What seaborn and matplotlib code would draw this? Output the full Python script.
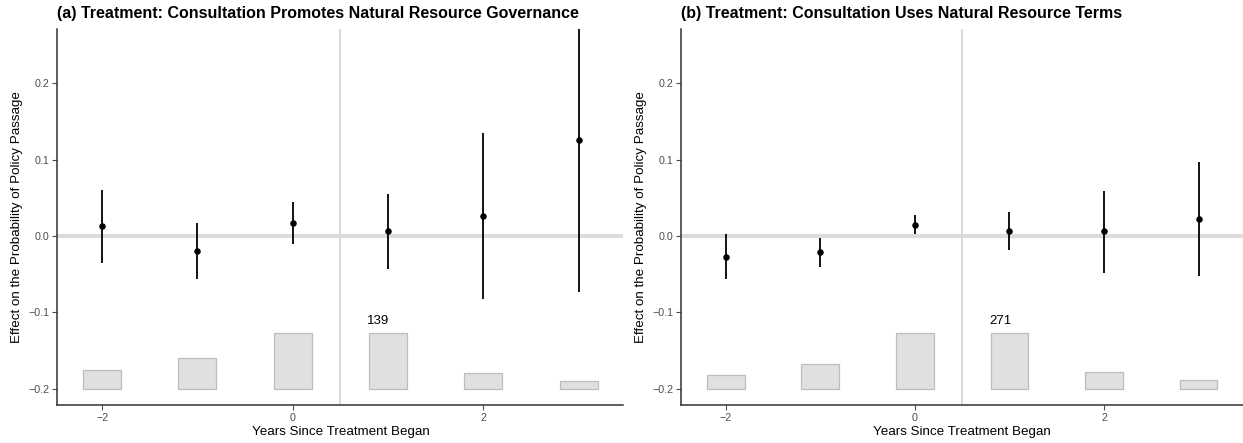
import numpy as np
import pandas as pd
import matplotlib
matplotlib.use("Agg")
import matplotlib.pyplot as plt
import seaborn as sns

# ---- data ----
years = [-2, -1, 0, 1, 2, 3]

titles = ["(a) Treatment: Consultation Promotes Natural Resource Governance",
          "(b) Treatment: Consultation Uses Natural Resource Terms"]

est_a = [0.013, -0.020, 0.017, 0.006, 0.026, 0.126]
lo_a = [-0.035, -0.057, -0.010, -0.043, -0.083, -0.073]
hi_a = [0.060, 0.017, 0.045, 0.055, 0.135, 0.326]
counts_a = [47, 77, 139, 139, 38, 19]

est_b = [-0.027, -0.021, 0.015, 0.007, 0.006, 0.022]
lo_b = [-0.057, -0.041, 0.002, -0.018, -0.048, -0.053]
hi_b = [0.002, -0.002, 0.028, 0.032, 0.059, 0.097]
counts_b = [65, 120, 271, 271, 82, 41]

count_labels = ["139", "271"]
label_year = 1

bar_base = -0.2
bar_max_height = 0.0725

sns.set_theme(style="ticks")
plt.rcParams['font.family'] = ['Liberation Sans', 'DejaVu Sans']
plt.rcParams['text.color'] = 'black'

fig = plt.figure(figsize=(12.43, 4.43), dpi=100)
axes = [fig.add_axes([0.0461, 0.0847, 0.4555, 0.8498]),
        fig.add_axes([0.5481, 0.0847, 0.4519, 0.8498])]

panels = [(est_a, lo_a, hi_a, counts_a), (est_b, lo_b, hi_b, counts_b)]

for ax, title, (est, lo, hi, counts), lab in zip(axes, titles, panels, count_labels):
    df = pd.DataFrame({"year": years, "est": est, "lo": lo, "hi": hi, "n": counts})
    heights = df["n"] / df["n"].max() * bar_max_height
    ax.axhline(0, color="#dcdcdc", lw=3, zorder=1)
    ax.axvline(0.5, color="#d9d9d9", lw=1.4, zorder=1)
    ax.bar(df["year"], heights, width=0.4, bottom=bar_base, color="#e0e0e0",
           edgecolor="#bdbdbd", linewidth=0.9, zorder=2)
    ax.vlines(df["year"], df["lo"], df["hi"], color="black", lw=1.3, zorder=3)
    sns.scatterplot(data=df, x="year", y="est", ax=ax, color="black", s=22,
                    edgecolor="black", linewidth=0, zorder=4, legend=False)
    ax.text(label_year - 0.1, bar_base + bar_max_height + 0.0165, lab,
            ha="center", va="center", fontsize=9.5, color="black")
    ax.set_xlim(-2.47, 3.47)
    ax.set_ylim(-0.2222, 0.2713)
    ax.set_xticks([-2, 0, 2])
    ax.set_xticklabels(["\u22122", "0", "2"])
    ax.set_yticks([-0.2, -0.1, 0.0, 0.1, 0.2])
    ax.set_yticklabels(["\u22120.2", "\u22120.1", "0.0", "0.1", "0.2"])
    ax.tick_params(axis="both", labelsize=7.7, colors="#4d4d4d", length=3.5, width=0.8, pad=2)
    ax.set_xlabel("Years Since Treatment Began", fontsize=9.6, color="black", labelpad=2)
    ax.set_ylabel("Effect on the Probability of Policy Passage", fontsize=9.6, color="black", labelpad=4)
    ax.set_title(title, fontsize=11.5, fontweight="bold", loc="left", pad=8, color="black")
    for side in ["top", "right"]:
        ax.spines[side].set_visible(False)
    for side in ["left", "bottom"]:
        ax.spines[side].set_color("#333333")
        ax.spines[side].set_linewidth(1.1)
    ax.set_facecolor("white")

fig.savefig("out.png", dpi=100, facecolor="white")
